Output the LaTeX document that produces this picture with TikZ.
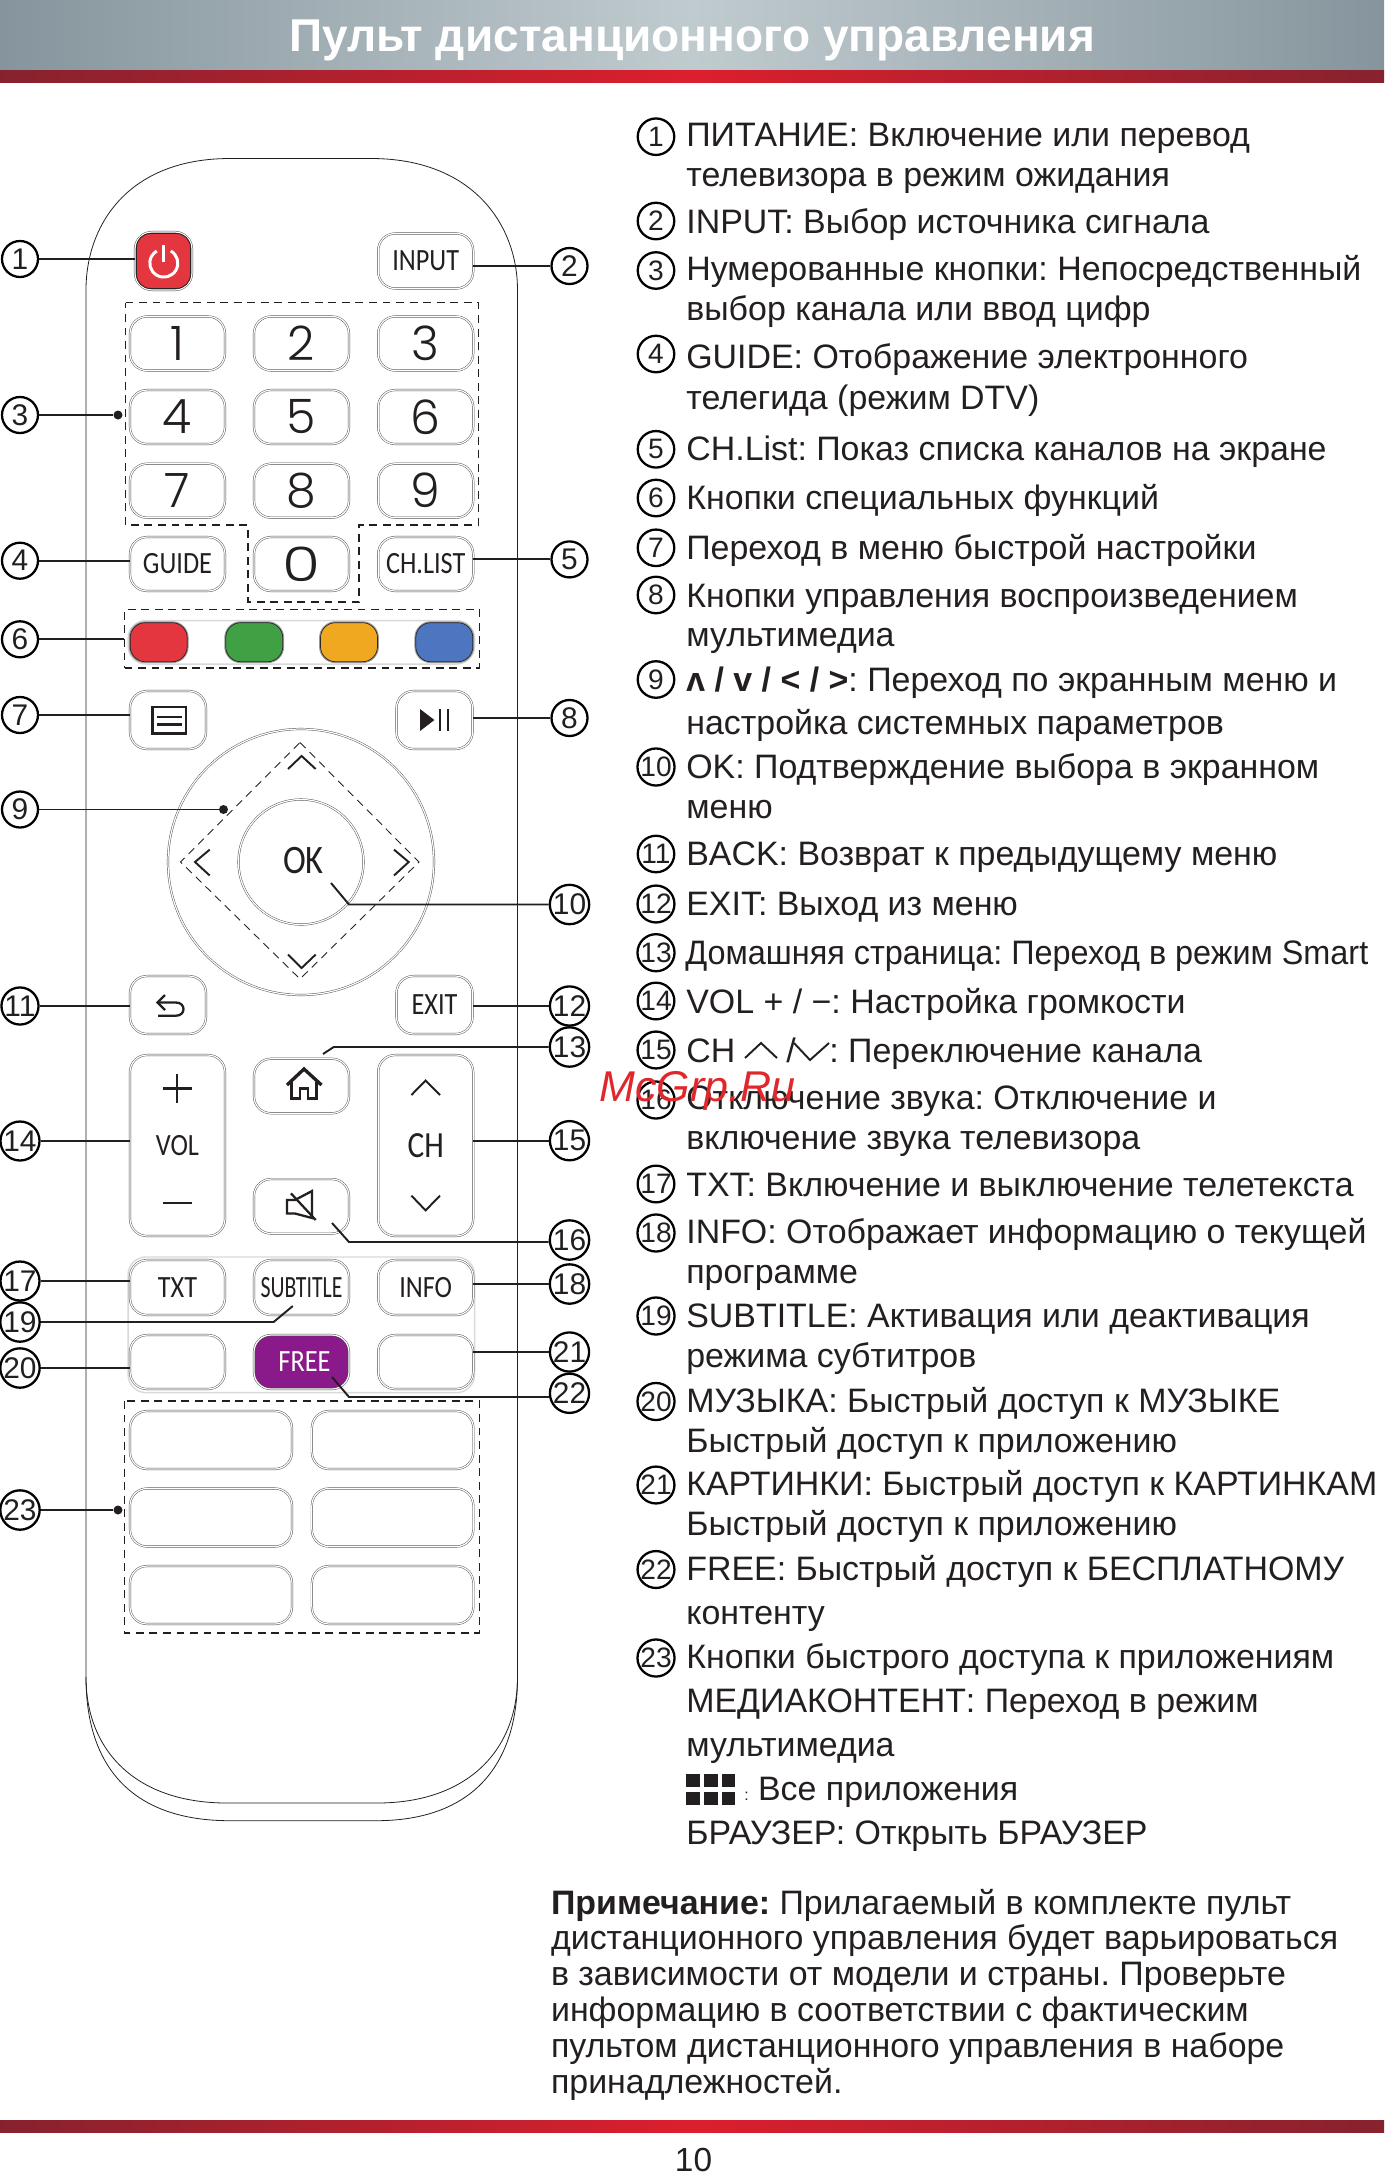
\documentclass[tikz,border=0pt]{standalone}
\usepackage{fontspec}
\usepackage{graphicx}
\setmainfont{Liberation Sans}
\newfontfamily\btnfont[FakeStretch=0.85]{Carlito}
\newfontfamily\numfont{Poppins Light}
\frenchspacing
\definecolor{ink}{HTML}{231F20}
\definecolor{bandgray}{HTML}{86959D}
\definecolor{bandlight}{HTML}{C0CBCF}
\definecolor{banddark}{HTML}{86222E}
\definecolor{bandred}{HTML}{DC1F2E}
\definecolor{btnred}{RGB}{227,54,62}
\definecolor{btngreen}{RGB}{64,160,68}
\definecolor{btnyellow}{RGB}{239,168,32}
\definecolor{btnblue}{RGB}{78,118,192}
\definecolor{btnpurple}{RGB}{138,26,138}
\definecolor{markred}{RGB}{224,40,44}
\tikzset{
	btn/.style 2 args={draw=black!70,double=white,double distance=0.7pt,line width=0.25pt,rounded corners=0.34cm,inner sep=0,minimum width=#1*0.02cm,minimum height=#2*0.02cm,text=ink},
	btnlabel/.style={font=\btnfont\fontsize{17.6}{20}\selectfont},
	digit/.style={font=\numfont\fontsize{27}{30}\selectfont},
	colbtn/.style={draw=black!85,line width=0.4pt,rounded corners=0.3cm,inner sep=0,minimum width=57*0.02cm,minimum height=39*0.02cm,fill=#1,preaction={draw=black!40,line width=1.6pt}},
	dashbox/.style={draw=ink,line width=0.6pt,dash pattern=on 4.5pt off 3.2pt},
	callout/.style={draw=black,line width=1.3pt,shape=circle,inner sep=0,minimum size=36*0.02cm,font=\fontsize{17}{20}\selectfont,text=ink},
	bullet/.style={draw=black,line width=1.3pt,shape=circle,inner sep=0,minimum size=36.5*0.02cm,font=\fontsize{16}{18}\selectfont,text=ink},
	conn/.style={draw=ink,line width=1.1pt},
	dotpt/.style={fill=ink,shape=circle,inner sep=0,minimum size=9*0.02cm},
	txt/.style={anchor=base west,inner sep=0,text=ink,font=\fontsize{19.3}{23}\selectfont},
	glyph/.style={draw=ink,line width=1.3pt},
	softbox/.style={draw=black!15,line width=0.8pt,rounded corners=0.36cm,inner sep=0,minimum width=346.5*0.02cm},
}
\begin{document}
\begin{tikzpicture}[x=0.02cm,y=-0.02cm]
	\useasboundingbox (0,0) rectangle (1384,2174);
	\fill[white] (0,0) rectangle (1384,2174);
	\shade[left color=bandgray,right color=bandgray,middle color=bandlight] (0,0) rectangle (1384,70);
	\shade[left color=banddark,right color=banddark,middle color=bandred] (0,70) rectangle (1384,82);
	\shade[left color=banddark,right color=banddark,middle color=bandred] (0,2120) rectangle (1384,2132);
	\node[anchor=base,inner sep=0,text=white,font=\bfseries\fontsize{26.2}{30}\selectfont] (TT) at (692,51) {Пульт дистанционного управления};
	\node[anchor=base,inner sep=0,text=ink,font=\fontsize{19}{22}\selectfont] (PN) at (693.5,2171) {10};

	\draw[draw=ink,line width=0.45pt] (86,290) .. controls (86,225) and (128,158.5) .. (230,158.5) -- (371,158.5) .. controls (473,158.5) and (517.5,225) .. (517.5,290) -- (517.5,1677) .. controls (517.5,1750) and (468,1803) .. (377,1803) -- (227,1803) .. controls (135,1803) and (86,1750) .. (86,1677) -- cycle;
	\draw[draw=ink,line width=0.45pt] (86,1677) .. controls (86,1770) and (135,1820.7) .. (230,1820.7) -- (376,1820.7) .. controls (468,1820.7) and (517.5,1770) .. (517.5,1677);

	\node[btn={57}{58},fill=white] (BPow) at (163.5,261) {};
	\node[draw=black!85,line width=0.5pt,rounded corners=0.28cm,inner sep=0,minimum width=54*0.02cm,minimum height=55*0.02cm,fill=btnred] (BPowIn) at (163.5,261) {};
	\draw[draw=white,line width=1.7pt] (170.8,251) arc[start angle=-60,end angle=240,radius=14];
	\draw[draw=white,line width=1.7pt] (BPow.center |- 0,245) -- (BPow.center |- 0,262);
	\node[btn={95}{55},btnlabel] (BInput) at (425.7,261) {INPUT};

	\draw[dashbox] (125.5,302.7) -- (478.4,302.7) -- (478.4,525) -- (359,525) -- (359,602) -- (248,602) -- (248,525) -- (125.5,525) -- cycle;
	\node[btn={95}{54},digit] (BNA) at (177.5,343.5) {1};
	\node[btn={95}{54},digit] (BNB) at (301.5,343.5) {2};
	\node[btn={95}{54},digit] (BNC) at (425.7,343.5) {3};
	\node[btn={95}{54},digit] (BND) at (177.5,417) {4};
	\node[btn={95}{54},digit] (BNE) at (301.5,417) {5};
	\node[btn={95}{54},digit] (BNF) at (425.7,417) {6};
	\node[btn={95}{54},digit] (BNG) at (177.5,490.7) {7};
	\node[btn={95}{54},digit] (BNH) at (301.5,490.7) {8};
	\node[btn={95}{54},digit] (BNI) at (425.7,490.7) {9};
	\node[btn={95}{54},btnlabel] (BGuide) at (177.5,564) {GUIDE};
	\node[btn={95}{54},digit] (BNZ) at (301.5,564) {\scalebox{1.3}[1]{0}};
	\node[btn={95}{54},btnlabel] (BList) at (425.7,564) {CH.LIST};

	\node[dashbox,inner sep=0,minimum width=355*0.02cm,minimum height=58.6*0.02cm] (DColor) at (302,638.7) {};
	\node[softbox,minimum height=43.5*0.02cm] (SColor) at (301.3,642.3) {};
	\node[colbtn=btnred] (BRed) at (158.7,642.2) {};
	\node[colbtn=btngreen] (BGreen) at (254.2,642.2) {};
	\node[colbtn=btnyellow] (BYellow) at (349,642.2) {};
	\node[colbtn=btnblue] (BBlue) at (444.3,642.2) {};

	\node[btn={76}{58}] (BMenu) at (168,720) {};
	\draw[glyph,line width=1.6pt] (152.5,707) rectangle (186,733.5);
	\draw[glyph] (157,717) -- (181.5,717);
	\draw[glyph] (157,724.6) -- (181.5,724.6);
	\node[btn={76}{58}] (BPlay) at (434.5,720) {};
	\fill[ink] (420,709) -- (434.4,720) -- (420,731) -- cycle;
	\draw[glyph,line width=1.1pt] (440,709) -- (440,731);
	\draw[glyph,line width=1.1pt] (447.8,709) -- (447.8,731);

	\node[draw=black!70,double=white,double distance=0.7pt,line width=0.25pt,shape=circle,inner sep=0,minimum size=266*0.02cm] (WOut) at (301,862) {};
	\draw[dashbox,line width=0.5pt] (300,742.5) -- (419,862) -- (300,979) -- (180.6,862) -- cycle;
	\node[draw=black!70,double=white,double distance=0.7pt,line width=0.25pt,shape=circle,fill=white,inner sep=0,minimum size=125*0.02cm] (BOk) at (301,862) {};
	\node[inner sep=0,text=ink,font=\btnfont\fontsize{23}{26}\selectfont] (LOk) at (303.5,861) {OK};
	\draw[glyph,line width=1.1pt] (288,769) -- (301.6,756) -- (315.7,769);
	\draw[glyph,line width=1.1pt] (288,954.5) -- (301.6,968) -- (315.7,954.5);
	\draw[glyph,line width=1.1pt] (209.7,849.6) -- (195,862) -- (209.7,875.5);
	\draw[glyph,line width=1.1pt] (394,849.6) -- (408.7,862) -- (394,875.5);

	\node[btn={76}{58}] (BBack) at (168,1005) {};
	\draw[glyph,line width=1.3pt] (158,1002.5) -- (176,1002.5) .. controls (186,1002.5) and (186,1015.7) .. (176,1015.7) -- (158,1015.7);
	\draw[glyph,line width=1.3pt] (165,995) -- (157.5,1002.5) -- (165,1010);
	\node[btn={76}{58},btnlabel] (BExit) at (434.5,1005) {EXIT};

	\node[btn={95}{181}] (BVol) at (177.5,1145.5) {};
	\node[inner sep=0,text=ink,font=\btnfont\fontsize{17.6}{20}\selectfont] (LVol) at (BVol.center) {VOL};
	\draw[glyph,line width=1.2pt] (177.2,1074) -- (177.2,1103);
	\draw[glyph,line width=1.2pt] (162.7,1088.5) -- (191.7,1088.5);
	\draw[glyph,line width=1.2pt] (162.7,1203) -- (192,1203);
	\node[btn={95}{181}] (BCh) at (425.7,1145.5) {};
	\node[inner sep=0,text=ink,font=\btnfont\fontsize{21}{24}\selectfont] (LCh) at (BCh.center) {CH};
	\draw[glyph,line width=1.1pt] (411.4,1095) -- (425.6,1080.5) -- (440,1095);
	\draw[glyph,line width=1.1pt] (411.4,1195.6) -- (425.6,1210.4) -- (440,1195.6);

	\node[btn={95}{54.5}] (BHome) at (301.5,1086) {};
	\draw[glyph,line width=1.9pt] (287,1085) -- (304,1069) -- (321.5,1085);
	\draw[glyph,line width=1.7pt] (291.6,1082) -- (291.6,1098.8) -- (300,1098.8) -- (300,1088.5) -- (308,1088.5) -- (308,1098.8) -- (316.9,1098.8) -- (316.9,1082);
	\node[btn={95}{54.5}] (BMute) at (301.5,1206.3) {};
	\draw[glyph,line width=1.3pt] (287,1200) -- (295,1200) -- (312,1191) -- (312,1218) -- (295,1213.5) -- (287,1213.5) -- cycle;
	\draw[glyph,line width=1.3pt] (291,1193.4) -- (315.7,1220);

	\node[softbox,minimum height=135.7*0.02cm] (SFunc) at (301.3,1324.8) {};
	\node[btn={95}{55},btnlabel] (BTxt) at (177.5,1287.5) {TXT};
	\node[btn={95}{55},font=\btnfont\fontsize{17.6}{20}\selectfont] (BSub) at (301.5,1287.5) {\scalebox{0.83}[1]{SUBTITLE}};
	\node[btn={95}{55},btnlabel] (BInfo) at (425.7,1287.5) {INFO};
	\node[btn={95}{54}] (BBlankA) at (177.5,1362) {};
	\node[btn={95}{54},fill=btnpurple] (BFree) at (301.5,1362) {};
	\node[inner sep=0,text=white,font=\btnfont\fontsize{17.6}{20}\selectfont] (LFree) at (304.5,1362) {FREE};
	\node[btn={95}{54}] (BBlankB) at (425.7,1362) {};

	\draw[dashbox] (124.4,1401) rectangle (479.5,1633);
	\node[btn={162}{58}] (BAppA) at (211,1440) {};
	\node[btn={161.5}{58}] (BAppB) at (392.6,1440) {};
	\node[btn={162}{58}] (BAppC) at (211,1517.5) {};
	\node[btn={161.5}{58}] (BAppD) at (392.6,1517.5) {};
	\node[btn={162}{58}] (BAppE) at (211,1595) {};
	\node[btn={161.5}{58}] (BAppF) at (392.6,1595) {};

	\node[callout] (CA) at (20,259) {1};
	\node[callout] (CB) at (569.5,266) {2};
	\node[callout] (CC) at (20,415) {3};
	\node[callout] (CD) at (20,560.7) {4};
	\node[callout] (CE) at (569.5,559.4) {5};
	\node[callout] (CF) at (20,639.3) {6};
	\node[callout] (CG) at (20,715) {7};
	\node[callout] (CH) at (569.5,718) {8};
	\node[callout] (CI) at (20,809.5) {9};
	\node[callout] (CJ) at (569.5,904.5) {10};
	\node[callout] (CK) at (20,1006) {11};
	\node[callout] (CL) at (569.5,1006) {12};
	\node[callout] (CM) at (569.5,1047) {13};
	\node[callout] (CN) at (20,1141) {14};
	\node[callout] (CO) at (569.5,1140.7) {15};
	\node[callout] (CP) at (569.5,1240) {16};
	\node[callout] (CQ) at (20,1281) {17};
	\node[callout] (CR) at (569.5,1284) {18};
	\node[callout] (CS) at (20,1322) {19};
	\node[callout] (CT) at (20,1368) {20};
	\node[callout] (CU) at (569.5,1352) {21};
	\node[callout] (CV) at (569.5,1393.3) {22};
	\node[callout] (CW) at (20,1510) {23};

	\node[dotpt] (DC) at (118,415) {};
	\node[dotpt] (DI) at (223.5,809.5) {};
	\node[dotpt] (DW) at (118,1510) {};
	\coordinate (KJA) at (349,904.5);
	\coordinate (KJB) at (331,883);
	\coordinate (KMA) at (333.7,1047);
	\coordinate (KMB) at (323,1054);
	\coordinate (KPA) at (349,1242);
	\coordinate (KPB) at (332,1223);
	\coordinate (KSA) at (273.6,1322);
	\coordinate (KSB) at (292.8,1306);
	\coordinate (KVA) at (349,1397);
	\coordinate (KVB) at (332,1377);

	\draw[conn] (CA.east)--(CA.east -| BPow.west);
	\draw[conn] (CB.west)--(CB.west -| BInput.east);
	\draw[conn] (CC.east)--(DC);
	\draw[conn] (CD.east)--(CD.east -| BGuide.west);
	\draw[conn] (CE.west)--(CE.west -| BList.east);
	\draw[conn] (CF.east)--(CF.east -| DColor.west);
	\draw[conn] (CG.east)--(CG.east -| BMenu.west);
	\draw[conn] (CH.west)--(CH.west -| BPlay.east);
	\draw[conn] (CI.east)--(DI);
	\draw[conn] (CJ.west)--(KJA)--(KJB);
	\draw[conn] (CK.east)--(CK.east -| BBack.west);
	\draw[conn] (CL.west)--(CL.west -| BExit.east);
	\draw[conn] (CM.west)--(KMA)--(KMB);
	\draw[conn] (CN.east)--(CN.east -| BVol.west);
	\draw[conn] (CO.west)--(CO.west -| BCh.east);
	\draw[conn] (CP.west |- KPA)--(KPA)--(KPB);
	\draw[conn] (CQ.east)--(CQ.east -| BTxt.west);
	\draw[conn] (CR.west)--(CR.west -| BInfo.east);
	\draw[conn] (CS.east)--(KSA)--(KSB);
	\draw[conn] (CT.east)--(CT.east -| BBlankA.west);
	\draw[conn] (CU.west)--(CU.west -| BBlankB.east);
	\draw[conn] (CV.west |- KVA)--(KVA)--(KVB);
	\draw[conn] (CW.east)--(DW);

	\node[bullet] (LA) at (656,136.7) {1};
	\node[txt] (TA) at (686,146) {ПИТАНИЕ: Включение или перевод};
	\node[txt] (TAb) at (686,186) {телевизора в режим ожидания};
	\node[bullet] (LB) at (656,221) {2};
	\node[txt] (TB) at (686,233) {INPUT: Выбор источника сигнала};
	\node[bullet] (LC) at (656,270.5) {3};
	\node[txt] (TC) at (686,280) {Нумерованные кнопки: Непосредственный};
	\node[txt] (TCb) at (686,320) {выбор канала или ввод цифр};
	\node[bullet] (LD) at (656,354) {4};
	\node[txt] (TD) at (686,368.5) {GUIDE: Отображение электронного};
	\node[txt] (TDb) at (686,409) {телегида (режим DTV)};
	\node[bullet] (LE) at (656,449.3) {5};
	\node[txt] (TE) at (686,460.5) {CH.List: Показ списка каналов на экране};
	\node[bullet] (LF) at (656,498) {6};
	\node[txt] (TF) at (686,509) {Кнопки специальных функций};
	\node[bullet] (LG) at (656,547.8) {7};
	\node[txt] (TG) at (686,559) {Переход в меню быстрой настройки};
	\node[bullet] (LH) at (656,595) {8};
	\node[txt] (TH) at (686,607) {Кнопки управления воспроизведением};
	\node[txt] (THb) at (686,646) {мультимедиа};
	\node[bullet] (LI) at (656,679.5) {9};
	\node[txt] (TI) at (686,691) {\textbf{\rotatebox[origin=c]{180}{v} / v / < / >}: Переход по экранным меню и};
	\node[txt] (TIb) at (686,734) {настройка системных параметров};
	\node[bullet] (LJ) at (656,767) {10};
	\node[txt] (TJ) at (686,778.5) {OK: Подтверждение выбора в экранном};
	\node[txt] (TJb) at (686,818) {меню};
	\node[bullet] (LK) at (656,854) {11};
	\node[txt] (TK) at (686,865) {BACK: Возврат к предыдущему меню};
	\node[bullet] (LL) at (656,904) {12};
	\node[txt] (TL) at (686,915) {EXIT: Выход из меню};
	\node[bullet] (LM) at (656,952.7) {13};
	\node[txt] (TM) at (685,964) {\scalebox{0.955}[1]{Домашняя страница: Переход в режим Smart}};
	\node[bullet] (LN) at (656,1001) {14};
	\node[txt] (TN) at (686,1013) {VOL + / −: Настройка громкости};
	\node[bullet] (LO) at (656,1050) {15};
	\node[txt] (TO) at (686,1062) {CH};
	\draw[glyph,line width=1.1pt] (745,1058) -- (761,1043) -- (777,1058);
	\node[txt] (TOa) at (786,1062) {/};
	\draw[glyph,line width=1.1pt] (794,1043) -- (810,1060) -- (829,1043);
	\node[txt] (TOb) at (829,1062) {: Переключение канала};
	\node[bullet] (LP) at (656,1100) {16};
	\node[txt] (TP) at (686,1109) {Отключение звука: Отключение и};
	\node[txt] (TPb) at (686,1149) {включение звука телевизора};
	\node[bullet] (LQ) at (656,1184) {17};
	\node[txt] (TQ) at (686,1196) {TXT: Включение и выключение телетекста};
	\node[bullet] (LR) at (656,1233) {18};
	\node[txt] (TR) at (686,1243) {INFO: Отображает информацию о текущей};
	\node[txt] (TRb) at (686,1283) {программе};
	\node[bullet] (LS) at (656,1316) {19};
	\node[txt] (TS) at (686,1327) {SUBTITLE: Активация или деактивация};
	\node[txt] (TSb) at (686,1367) {режима субтитров};
	\node[bullet] (LT) at (656,1401.5) {20};
	\node[txt] (TT2) at (686,1412) {МУЗЫКА: Быстрый доступ к МУЗЫКЕ};
	\node[txt] (TTb) at (686,1452) {Быстрый доступ к приложению};
	\node[bullet] (LU) at (656,1485) {21};
	\node[txt] (TU) at (686,1495) {КАРТИНКИ: Быстрый доступ к КАРТИНКАМ};
	\node[txt] (TUb) at (686,1535) {Быстрый доступ к приложению};
	\node[bullet] (LV) at (656,1569.5) {22};
	\node[txt] (TV) at (686,1580) {FREE: Быстрый доступ к БЕСПЛАТНОМУ};
	\node[txt] (TVb) at (686,1624) {контенту};
	\node[bullet] (LW) at (656,1658) {23};
	\node[txt] (TW) at (686,1668) {Кнопки быстрого доступа к приложениям};
	\node[txt] (TWb) at (686,1712.5) {МЕДИАКОНТЕНТ: Переход в режим};
	\node[txt] (TWc) at (686,1756) {мультимедиа};
	\fill[ink] (686,1773.5) rectangle (700,1786.5);
	\fill[ink] (704,1773.5) rectangle (718,1786.5);
	\fill[ink] (722,1773.5) rectangle (735,1786.5);
	\fill[ink] (686,1791.6) rectangle (700,1804.5);
	\fill[ink] (704,1791.6) rectangle (718,1804.5);
	\fill[ink] (722,1791.6) rectangle (735,1804.5);
	\node[txt,font=\fontsize{9}{11}\selectfont] (TWd) at (744,1800) {:};
	\node[txt] (TWe) at (757.7,1800) {Все приложения};
	\node[txt] (TWf) at (686,1844) {БРАУЗЕР: Открыть БРАУЗЕР};

	\node[txt] (NA) at (550.7,1914) {\textbf{Примечание:} Прилагаемый в комплекте пульт};
	\node[txt] (NB) at (550.7,1949.5) {дистанционного управления будет варьироваться};
	\node[txt] (NC) at (550.7,1985.7) {в зависимости от модели и страны. Проверьте};
	\node[txt] (ND) at (550.7,2021.5) {информацию в соответствии с фактическим};
	\node[txt] (NE) at (550.7,2057) {пультом дистанционного управления в наборе};
	\node[txt] (NF) at (550.7,2093) {принадлежностей.};

	\node[anchor=base west,inner sep=0,text=markred,font=\itshape\fontsize{24.5}{27}\selectfont] (WM) at (599,1101.7) {McGrp.Ru};
\end{tikzpicture}
\end{document}
